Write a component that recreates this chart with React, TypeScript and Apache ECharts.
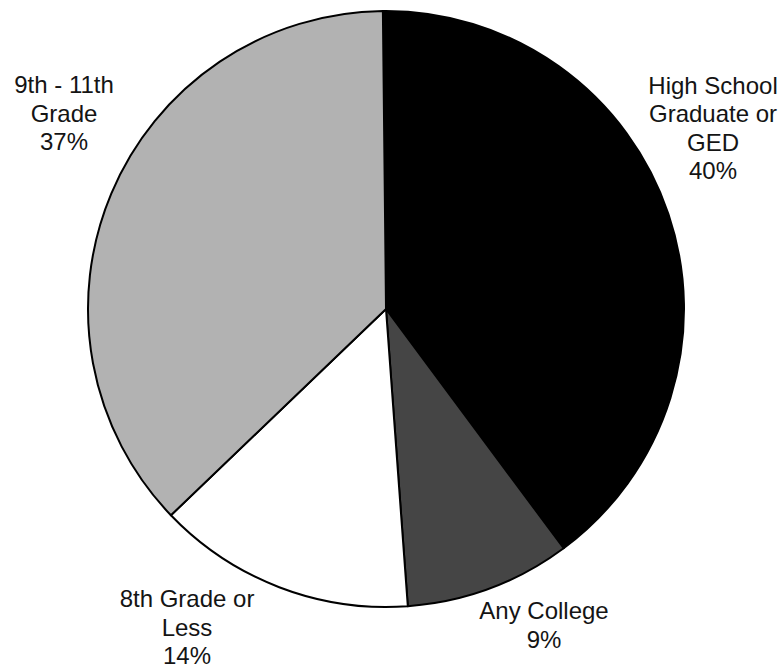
import React, { useEffect, useRef } from "react";
import * as echarts from "echarts";

const categories = [
  "High School\nGraduate or\nGED",
  "Any College",
  "8th Grade or\nLess",
  "9th - 11th\nGrade",
];
const values = [40, 9, 14, 37];
const colors = ["#000000", "#454545", "#ffffff", "#b2b2b2"];

// label block centres (layout only)
const labelCenters: [number, number][] = [
  [713, 128],
  [544, 625],
  [187, 627],
  [64, 113],
];

export default function App() {
  const ref = useRef<HTMLDivElement>(null);
  useEffect(() => {
    if (!ref.current) return;
    const chart = echarts.init(ref.current, undefined, { renderer: "svg" });
    chart.setOption({
      animation: false,
      backgroundColor: "#ffffff",
      series: [
        {
          type: "pie",
          center: [386, 309],
          radius: 298,
          startAngle: 90.6,
          clockwise: true,
          avoidLabelOverlap: false,
          data: categories.map((name, i) => ({
            name,
            value: values[i],
            itemStyle: { color: colors[i] },
          })),
          itemStyle: { borderColor: "#000000", borderWidth: 2 },
          emphasis: { disabled: true },
          label: {
            show: true,
            position: "outside",
            formatter: "{b}\n{c}%",
            fontFamily: "Liberation Sans, Arial, sans-serif",
            fontSize: 24,
            lineHeight: 28.5,
            color: "#141414",
            align: "center",
          },
          labelLine: { show: false },
          labelLayout: (params: any) => {
            const c = labelCenters[params.dataIndex];
            return {
              x: c[0],
              y: c[1],
              align: "center",
              verticalAlign: "middle",
            };
          },
        },
      ],
    });
    return () => chart.dispose();
  }, []);
  return (
    <div
      ref={ref}
      style={{ position: "fixed", left: 0, top: 0, width: 783, height: 670 }}
    />
  );
}
